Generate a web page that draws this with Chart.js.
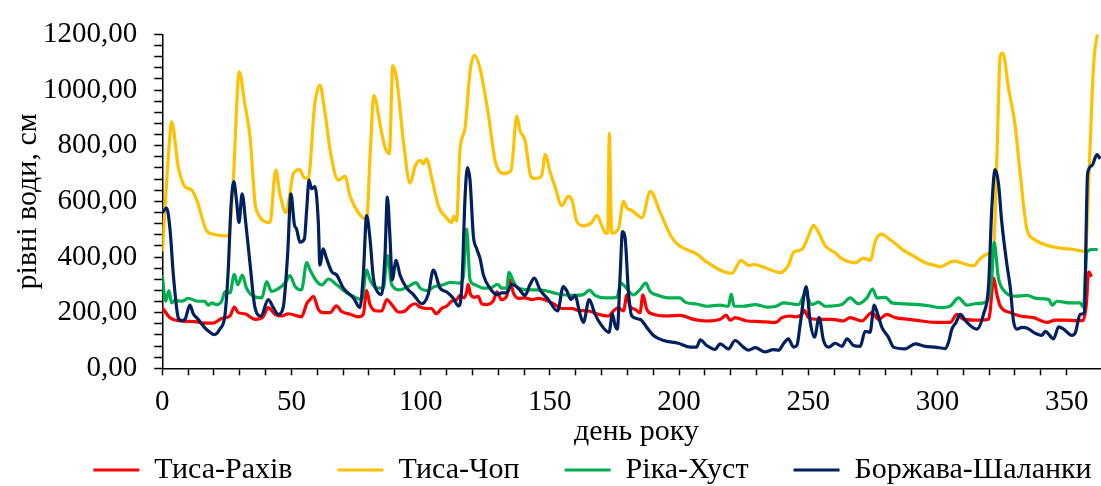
<!DOCTYPE html>
<html>
<head>
<meta charset="utf-8">
<script src="https://cdn.jsdelivr.net/npm/chart.js@4.4.1/dist/chart.umd.min.js"></script>
<style>
html,body{margin:0;padding:0;overflow:hidden;background:#fff;width:1101px;height:486px}
canvas{display:block}
</style>
</head>
<body>
<canvas id="c" width="1185" height="495"></canvas>
<script>
// ---- data (day of year -> water level, cm) ----
const seriesNames = ['Тиса-Рахів', 'Тиса-Чоп', 'Ріка-Хуст', 'Боржава-Шаланки'];
const xTitle = 'день року';
const yTitle = 'рівні води, см';

const rakhivDays = [
 0,3,6.2,12.6,16.5,19.7,23,26.2,27.9,29.4,
 32,35.9,39.1,41,43.6,46.2,48.8,53.9,55.9,57.2,
 58.5,60.4,62.3,64.9,67.4,69.4,72.7,75.9,77.8,79.1,
 80.4,83,84.9,86.9,88.8,91.4,94,95.9,97.8,99.8,
 102.3,104.2,106,108.1,110.1,112,114,115.2,116.8,117.8,
 118.4,119.3,121,122.3,123.6,125.6,128.2,129.5,131.2,133.3,
 134.4,135.9,137.8,140.4,143,145.6,148.8,152,154.6,158.5,
 161,164.9,168.8,172.6,174.6,176.5,178.5,179.8,181,183,
 184.9,186,187.5,190.1,195.2,200.4,205.6,210.7,215.9,218.2,
 219.8,221.7,226.2,231.4,235.9,237.5,239.8,243,245,247.5,
 248.5,250.1,254,259.1,263.6,266.2,270.7,274.6,277.2,280.4,
 283.6,288.8,293.9,299.1,305,307.5,310.1,316.5,319.8,320.4,
 321.7,323,324.3,328.2,332,337.2,342.4,345.6,348.8,354,
 356.3,357.6,358.5,359.6];
const rakhivLevels = [
 218,182,171,168,162,162,179,188,220,200,
 196,176,186,218,194,188,196,185,232,247,
 259,212,200,200,224,204,194,185,194,279,
 229,206,206,247,229,202,206,224,232,220,
 215,215,196,215,224,241,247,262,253,275,
 302,265,255,259,232,229,244,275,247,259,
 318,271,251,253,247,251,244,229,215,215,
 208,206,194,188,206,218,206,264,223,212,
 200,264,212,194,188,190,176,170,176,191,
 173,182,170,168,165,165,182,188,185,194,
 208,182,176,176,170,182,170,200,176,194,
 182,176,170,165,165,194,176,173,176,206,
 324,265,224,200,188,182,165,173,173,171,
 171,229,347,329];

const chopDays = [
 0,3,3.6,6.2,8.8,11.4,13.3,17.2,19.7,24.9,
 25.8,27.5,29.8,32,34,35.9,37.2,41.7,43.9,45.5,
 47.9,49.4,50.7,53.3,54.6,56.5,59,61,62.9,65,
 68.1,70.7,72.7,75.9,79.1,80.4,81.9,84.3,86.2,87.9,
 89.2,90.7,93.3,95.9,97.8,99.8,101,102.3,104.2,106.9,
 109.4,112,112.9,113.9,115.2,117.2,119.1,120.8,123,126.2,
 128.8,132,135,137.2,138.5,140.4,142.7,144.3,146.8,148.2,
 150.1,152,154.6,157.2,158.5,160.4,163,166.2,168.2,170.1,
 171.6,172.4,173,173.9,176.5,178.5,179.8,181.7,185.6,188.9,
 192.7,197.2,200,206.8,210.7,220.4,224,227,229,234,
 239.1,242.3,244.3,247.5,250.1,252,254,256.5,260.4,263,
 268.1,271.4,274,276,278.2,281.7,287.5,291.4,295.3,299.1,
 301,306.2,314,316.5,319.8,321.7,323,324.3,325.3,327.5,
 330,332,334.6,337.2,341.7,347.5,352.7,357.2,358.9,360.4,
 362,363.5];
const chopLevels = [
 420,841,886,723,653,641,606,494,482,476,
 480,676,1065,947,829,594,553,524,712,629,
 559,629,700,714,688,682,947,1018,924,782,
 676,691,618,559,535,759,980,876,794,771,
 1088,1041,818,665,724,747,735,753,688,582,
 547,524,547,529,782,865,1065,1126,1076,912,
 747,700,712,906,853,818,688,682,691,768,
 706,653,585,618,606,529,512,524,550,512,
 486,486,844,486,500,600,576,568,541,636,
 560,470,441,411,382,341,388,369,373,359,
 344,370,417,427,476,514,488,441,415,394,
 379,396,388,458,482,462,420,400,379,370,
 365,385,368,394,412,429,759,1124,1133,1006,
 876,700,500,465,444,432,427,420,759,1088,
 1206,1260];

const khustDays = [
 0,1.3,2.6,3.6,4.9,7.5,10.1,13.9,16.5,17.8,
 19.1,21,23,24.3,26.2,27.9,29.2,31,32.6,35.2,
 38.5,40.4,42.3,44.9,47.5,49.4,51.4,53.9,55.9,57.2,
 59.8,61.7,64.3,67.5,71.4,75.2,77.2,79.1,80.4,83,
 85.6,87.1,88.8,92,95.2,98.2,99.8,102.3,105.5,108.8,
 111.4,115.2,116.5,117.8,119.1,121,124.3,126.8,129.8,131.4,
 133.3,134.2,135.9,137.8,143,148.2,153.3,158.5,163,165.3,
 167.5,171.4,175.9,177.5,179.1,182.3,184.8,187.1,188.8,192,
 196.5,200.4,202.3,206.8,210.7,215.9,219.1,220.2,221.3,224.9,
 229.5,234,237.2,240.4,246.2,248.8,251.4,254,256.5,263,
 266.2,269.4,272.7,274.9,276.6,279.8,282.4,286.2,292.6,297.2,
 301,305,308.1,311.4,314.6,319.1,321,321.9,323.6,325.5,
 330,334.6,338.5,343.1,344.4,346.2,351.4,355.2,356.5,357.8,
 359.8,362];
const khustLevels = [
 335,241,279,235,244,241,251,241,241,227,
 235,229,241,276,271,338,300,335,288,259,
 253,312,276,286,306,333,294,282,380,353,
 312,300,321,300,271,253,247,353,318,288,
 288,406,300,282,294,308,288,279,294,300,
 309,306,329,500,318,300,288,288,302,288,
 288,345,312,288,282,279,267,262,265,281,
 262,253,255,306,294,264,282,306,276,262,
 253,253,238,231,223,227,223,267,223,223,
 229,220,222,235,229,267,229,238,223,229,
 253,232,253,285,253,255,235,232,229,224,
 218,224,253,227,232,239,324,453,324,282,
 259,262,251,247,227,241,235,235,220,418,
 427,427];

const borzhavaDays = [
 0,1.7,3,4.3,6.2,7.5,8.8,10.7,12,13.9,
 16.5,18.5,20.1,22.3,24.3,25.5,26.6,27.7,28.7,29.7,
 30.9,32.3,33.9,35.9,38.2,41,43,44.9,46.8,48.5,
 49.8,51.1,52,53.3,55,55.9,56.8,57.8,59.1,60.4,
 61,62.3,63.6,65.6,67.5,70.1,74,76.5,77.8,79.1,
 80.4,81.7,83.6,84.9,86.2,87.1,88.1,89,90.5,92,
 94.6,97.2,100.4,102.9,104.9,107.5,110.1,112.7,114.6,115.9,
 117.2,118.1,119.1,120.4,121.7,123,124.3,126.8,129.4,131.4,
 133.3,135.2,137.8,140.4,142.3,144,146.2,149.4,153,155.2,
 156.5,158.2,159.7,161.7,163,165.2,167.5,170.1,172.9,174.2,
 175.2,176.1,177.2,178.1,179.1,180.4,181.7,184.9,187.5,190.1,
 194,199.7,204.3,206.8,208.2,210.7,213.9,215.9,219.1,221.7,
 224.9,226.9,229.5,233.3,236.5,238.5,240.4,242.3,244.3,245.6,
 246.9,249.2,250.7,252.4,254.2,255.9,257.9,260.4,263,265,
 267.5,270.1,272,273.9,275.5,276.9,278.5,281,283,287.5,
 291.4,295.3,299.1,303,304.3,305.6,307.2,308.8,311.4,315.2,
 317.8,319.8,321,322.3,323.6,324.9,326.9,328.2,329.4,330.7,
 332.7,334.6,337.2,340.4,341.7,344.9,346.9,348.8,352,353.4,
 355.2,356.8,358.1,359.8,361.7,363];
const borzhavaLevels = [
 559,576,500,335,182,171,176,227,196,176,
 145,129,121,141,194,347,582,671,606,524,
 627,524,382,218,188,247,218,194,218,406,
 627,518,500,453,465,571,676,645,653,524,
 371,429,394,347,335,288,253,218,335,549,
 465,324,271,265,406,615,476,318,388,335,
 288,265,232,265,353,288,274,251,224,288,
 618,721,676,476,429,394,335,288,265,271,
 271,302,288,262,300,324,282,247,206,294,
 279,247,262,194,165,247,194,153,129,196,
 156,141,335,491,470,276,188,176,147,118,
 100,90,76,76,102,82,68,88,70,100,
 76,65,74,59,67,65,88,106,76,82,
 159,294,170,112,182,100,76,90,79,106,
 82,79,133,129,227,194,147,112,76,70,
 88,79,76,71,94,141,165,194,165,141,
 194,300,571,714,665,524,371,288,171,141,
 147,145,129,118,133,106,149,141,118,129,
 194,200,700,729,768,753];

const seriesColors = ['#FF0000', '#FFC000', '#00B050', '#002060'];

const toPoints = (days, levels) => days.map((d, i) => ({x: d, y: levels[i]}));

Chart.defaults.font.family = "'Liberation Serif', 'Times New Roman', serif";
Chart.defaults.font.size = 29;
Chart.defaults.color = '#000';

const seriesData = [
  toPoints(rakhivDays, rakhivLevels),
  toPoints(chopDays, chopLevels),
  toPoints(khustDays, khustLevels),
  toPoints(borzhavaDays, borzhavaLevels)
];
const drawOrder = [3, 3, 2, 1];

new Chart(document.getElementById('c'), {
  type: 'line',
  data: {
    datasets: seriesNames.map((name, i) => ({
      label: name,
      data: seriesData[i],
      borderColor: seriesColors[i],
      backgroundColor: seriesColors[i],
      borderWidth: 3.2,
      pointRadius: 0,
      pointHoverRadius: 0,
      cubicInterpolationMode: 'monotone',
      fill: false,
      order: drawOrder[i]
    }))
  },
  options: {
    responsive: false,
    animation: false,
    devicePixelRatio: 1,
    layout: {padding: {left: 8, right: 8, top: 10.9, bottom: 0}},
    plugins: {
      tooltip: {enabled: false},
      legend: {
        position: 'bottom',
        labels: {
          boxWidth: 46,
          boxHeight: 3,
          padding: 45,
          color: '#000',
          font: {size: 30},
          sort: (a, b) => a.datasetIndex - b.datasetIndex,
          generateLabels(chart) {
            const items = Chart.defaults.plugins.legend.labels.generateLabels(chart);
            items.forEach(it => { it.fillStyle = it.strokeStyle; it.lineWidth = 0; });
            return items;
          }
        }
      }
    },
    scales: {
      x: {
        type: 'linear',
        min: 0,
        max: 367,
        ticks: {
          stepSize: 10,
          autoSkip: false,
          maxRotation: 0,
          padding: 10,
          color: '#000',
          font: {size: 29},
          callback: v => (Math.abs(v % 50) < 1e-6 ? String(v) : '')
        },
        grid: {drawOnChartArea: false, tickLength: 7, tickColor: '#000', tickWidth: 1.5},
        border: {color: '#000', width: 1.5},
        title: {display: true, text: xTitle, color: '#000', font: {size: 30}, padding: {top: -16.1, bottom: -40}}
      },
      y: {
        min: 0,
        max: 1200,
        ticks: {
          stepSize: 40,
          autoSkip: false,
          padding: 17,
          color: '#000',
          font: {size: 29},
          callback: v => (Math.abs(v % 200) < 1e-6 ? v.toFixed(2).replace('.', ',') : '')
        },
        grid: {drawOnChartArea: false, tickLength: 8, tickColor: '#000', tickWidth: 1.5},
        border: {color: '#000', width: 1.5},
        title: {display: true, text: yTitle, color: '#000', font: {size: 30}, padding: {top: 2, bottom: -20}}
      },
      yR: {
        position: 'right',
        display: true,
        ticks: {display: false},
        grid: {display: false},
        border: {display: false},
        afterFit(s) { s.width = 66.4; }
      }
    }
  }
});
</script>
</body>
</html>
